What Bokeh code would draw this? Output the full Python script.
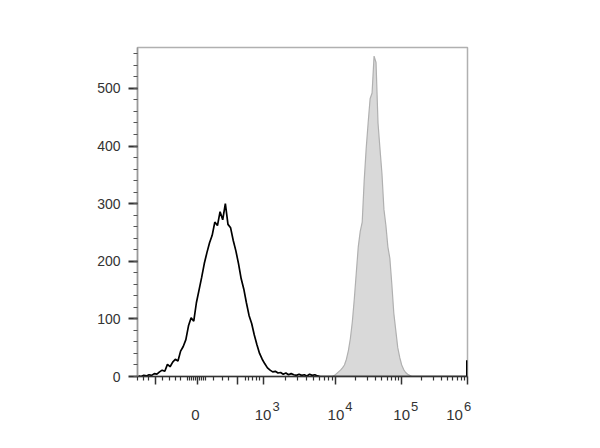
import math
from bokeh.plotting import figure
from bokeh.models import FixedTicker, SingleIntervalTicker, Range1d, LinearAxis
from bokeh.embed import file_html
from bokeh.resources import INLINE

# ---- data (x in logicle display units: 10^4 -> 4, 10^5 -> 5, 10^6 -> 6) ----
black_start = 1.00
black_step = 0.04
black_counts = [1, 0, 2, 1, 3, 2, 5, 4, 8, 11, 9, 21, 17, 25, 30, 27, 44, 52, 64, 88,
                102, 96, 128, 150, 172, 196, 215, 232, 245, 268, 262, 286, 272, 300, 264,
                258, 236, 218, 196, 170, 152, 128, 106, 92, 72, 55, 40, 30, 22, 15, 11, 8,
                9, 6, 7, 4, 6, 3, 5, 3, 2, 4, 2, 3, 1, 4, 2, 3, 1, 0]
black_tail_x = [3.76, 5.99, 5.99]
black_tail_counts = [0, 0, 28]

grey_start = 3.95
grey_step = 0.03
grey_counts = [0, 2, 5, 8, 11, 15, 20, 30, 45, 66, 95, 135, 180, 225, 252, 268, 340, 395,
               440, 482, 492, 556, 545, 440, 395, 352, 290, 262, 225, 205, 160, 110, 80, 50,
               33, 20, 12, 7, 4, 2, 0]

x_label_pos = [1.894, 2.894, 4.0, 5.0, 6.0]
x_label_base = ["0", "10", "10", "10", "10"]
x_label_exp = ["", "3", "4", "5", "6"]
x_unlabeled_major = [1.258, 2.5]

black_x = [black_start + black_step * i for i in range(len(black_counts))]
grey_x = [grey_start + grey_step * i for i in range(len(grey_counts))]

X0, X1 = 0.985, 6.0
FRAME_W = 330
PX = (X1 - X0) / FRAME_W          # data units per pixel
label_shift_px = [-2, 0, 0, 0, -13]

p = figure(width=584, height=432, output_backend="svg", toolbar_location=None,
           x_range=Range1d(X0, X1), y_range=Range1d(0, 571),
           min_border_left=137, min_border_right=117, min_border_top=47,
           min_border_bottom=56)
p.grid.visible = False
p.outline_line_color = "#b0b0b0"
p.outline_line_width = 1.5
p.background_fill_color = "white"
p.border_fill_color = "white"

# grey filled histogram
p.varea(x=grey_x, y1=[0] * len(grey_counts), y2=grey_counts, fill_color="#d9d9d9")
p.line(grey_x, grey_counts, line_color="#b0b0b0", line_width=1.2)

# black histogram
p.line(black_x, black_counts, line_color="black", line_width=1.7)
p.line(black_tail_x, black_tail_counts, line_color="black", line_width=1.7)

# ---- x axis ticks (logicle-like) ----
minor = [0.985, 1.076, 1.152, 1.364, 1.470, 1.561, 1.636,
         1.742, 1.773, 1.803, 1.833, 1.864, 1.924, 1.955, 1.985, 2.015,
         2.136, 2.273, 2.364, 2.621, 2.667, 2.727, 2.788, 2.833]
minor += [2.894 + 1.106 * math.log10(k) for k in range(2, 10)]
for d in (4, 5):
    minor += [d + math.log10(k) for k in range(2, 10)]

xa = p.xaxis[0]
xa.ticker = FixedTicker(ticks=x_unlabeled_major + x_label_pos, minor_ticks=minor)
xa.major_label_text_font_size = "0px"
xa.major_label_text_alpha = 0
xa.major_label_standoff = 0
xa.axis_line_color = "#333333"
xa.axis_line_width = 1.5
xa.major_tick_line_color = "#333333"
xa.minor_tick_line_color = "#333333"
xa.major_tick_line_width = 1.5
xa.minor_tick_line_width = 1.2
xa.major_tick_out = 8
xa.major_tick_in = 0
xa.minor_tick_out = 4
xa.minor_tick_in = 0


def label_axis(positions, texts, size, standoff):
    ax = LinearAxis(ticker=FixedTicker(ticks=positions, minor_ticks=[]),
                    major_label_overrides={v: t for v, t in zip(positions, texts)},
                    axis_line_color=None, major_tick_line_color=None,
                    minor_tick_line_color=None, major_tick_out=0, major_tick_in=0,
                    minor_tick_out=0, minor_tick_in=0,
                    major_label_standoff=standoff,
                    major_label_text_font="Liberation Sans",
                    major_label_text_font_size=size,
                    major_label_text_color="#333333")
    p.add_layout(ax, "below")


# exponents (raised, to the right of "10")
exp_pos = [round(v + (s + 13) * PX, 4) for v, s, e in zip(x_label_pos, label_shift_px, x_label_exp) if e]
exp_txt = [e for e in x_label_exp if e]
label_axis(exp_pos, exp_txt, "13px", 17)
# bases
base_pos = [round(v + s * PX, 4) for v, s in zip(x_label_pos, label_shift_px)]
label_axis(base_pos, x_label_base, "15px", -4)

ya = p.yaxis[0]
ya.ticker = SingleIntervalTicker(interval=100, num_minor_ticks=5)
ya.axis_line_color = "#999999"
ya.axis_line_width = 1.5
ya.major_tick_line_color = "#333333"
ya.minor_tick_line_color = "#555555"
ya.major_tick_line_width = 1.8
ya.minor_tick_line_width = 1.2
ya.major_tick_out = 9
ya.major_tick_in = 0
ya.minor_tick_out = 4
ya.minor_tick_in = 0
ya.major_label_standoff = 8
ya.major_label_text_font = "Liberation Sans"
ya.major_label_text_font_size = "14px"
ya.major_label_text_color = "#333333"

open("out.html", "w").write(file_html(p, INLINE))
